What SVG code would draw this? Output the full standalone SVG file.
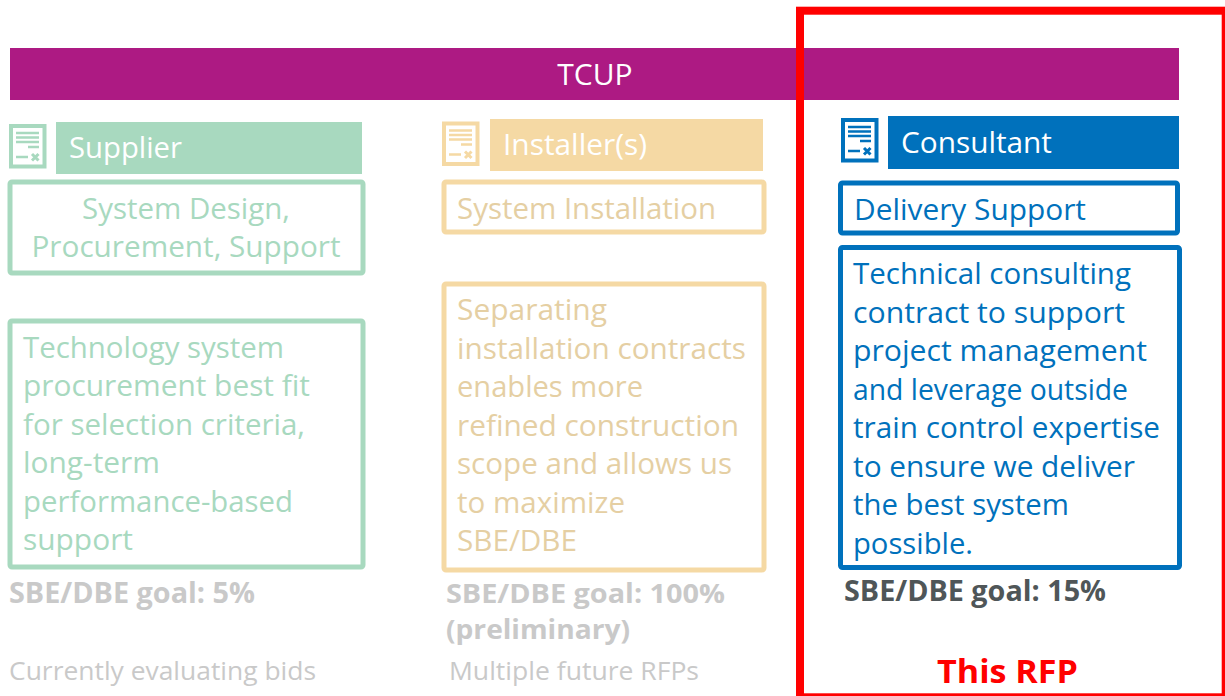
<svg xmlns="http://www.w3.org/2000/svg" width="1225" height="696" viewBox="0 0 1225 696">
<style>
text{font-family:"Open Sans","Noto Sans","Liberation Sans",sans-serif;font-size:30px}
.g{fill:#a8d9bf}.gs{stroke:#a8d9bf}
.t{fill:#e5cfa3}.ts{stroke:#f5d9a4}
.b{fill:#0071bc}.bs{stroke:#0071bc}
.box{fill:#fff;stroke-width:5}
.h{fill:#fff}
.goal{font-weight:700;font-size:28px;fill:#c9c9c9}
.goal2{font-weight:700;font-size:26px;fill:#c9c9c9}
.note{font-size:25px;fill:#c9c9c9}
</style>
<defs>
<g id="doc">
<rect x="2" y="2" width="33.500" height="40.500" fill="#fff" stroke="currentColor" stroke-width="4"/>
<path d="M7 9H30M7 13.500H30M7 18H30M19 23H30M7 33H19" stroke="currentColor" stroke-width="2.500" fill="none"/>
<path d="M23 30L29.500 36.500M29.500 30L23 36.500" stroke="currentColor" stroke-width="3" fill="none"/>
</g>
</defs>
<g id="tcup"><rect x="10" y="48" width="1169" height="52" fill="#ad1a83"/><text x="595" y="85" text-anchor="middle" class="h">TCUP</text></g>
<g id="supplier">
<use href="#doc" x="9" y="124" color="#a8d9bf"/>
<rect x="56" y="122" width="306" height="52" class="g"/>
<text x="69" y="158" class="h" textLength="113" lengthAdjust="spacingAndGlyphs">Supplier</text>
</g>
<g id="supplier-role">
<rect x="10" y="182" width="353" height="91" rx="2" class="box gs"/>
<text x="186" y="219" text-anchor="middle" class="g" textLength="208" lengthAdjust="spacingAndGlyphs">System Design,</text>
<text x="186" y="257" text-anchor="middle" class="g" textLength="309" lengthAdjust="spacingAndGlyphs">Procurement, Support</text>
</g>
<g id="supplier-desc">
<rect x="10" y="321" width="353" height="246" rx="2" class="box gs"/>
<text x="23" y="358" class="g" textLength="261" lengthAdjust="spacingAndGlyphs">Technology system</text>
<text x="23" y="396" class="g" textLength="287" lengthAdjust="spacingAndGlyphs">procurement best fit</text>
<text x="23" y="435" class="g" textLength="282" lengthAdjust="spacingAndGlyphs">for selection criteria,</text>
<text x="23" y="473" class="g" textLength="137" lengthAdjust="spacingAndGlyphs">long-term</text>
<text x="23" y="512" class="g" textLength="270" lengthAdjust="spacingAndGlyphs">performance-based</text>
<text x="23" y="550" class="g" textLength="110" lengthAdjust="spacingAndGlyphs">support</text>
</g>
<g id="supplier-foot">
<text x="9" y="603" class="goal" textLength="246" lengthAdjust="spacingAndGlyphs">SBE/DBE goal: 5%</text>
<text x="9" y="680" class="note" textLength="307" lengthAdjust="spacingAndGlyphs">Currently evaluating bids</text>
</g>
<g id="installer">
<use href="#doc" x="442" y="121.500" color="#f5d9a4"/>
<rect x="490" y="119" width="273" height="52" fill="#f5d9a4"/>
<text x="503" y="155" class="h" textLength="144" lengthAdjust="spacingAndGlyphs">Installer(s)</text>
</g>
<g id="installer-role">
<rect x="444" y="182" width="320" height="50" rx="2" class="box ts"/>
<text x="457" y="219" class="t" textLength="259" lengthAdjust="spacingAndGlyphs">System Installation</text>
</g>
<g id="installer-desc">
<rect x="444" y="284" width="320" height="286" rx="2" class="box ts"/>
<text x="457" y="320" class="t" textLength="150" lengthAdjust="spacingAndGlyphs">Separating</text>
<text x="457" y="359" class="t" textLength="289" lengthAdjust="spacingAndGlyphs">installation contracts</text>
<text x="457" y="397" class="t" textLength="186" lengthAdjust="spacingAndGlyphs">enables more</text>
<text x="457" y="436" class="t" textLength="282" lengthAdjust="spacingAndGlyphs">refined construction</text>
<text x="457" y="474" class="t" textLength="275" lengthAdjust="spacingAndGlyphs">scope and allows us</text>
<text x="457" y="513" class="t" textLength="168" lengthAdjust="spacingAndGlyphs">to maximize</text>
<text x="457" y="551" class="t" textLength="120" lengthAdjust="spacingAndGlyphs">SBE/DBE</text>
</g>
<g id="installer-foot">
<text x="446" y="603" class="goal2" textLength="279" lengthAdjust="spacingAndGlyphs">SBE/DBE goal: 100%</text>
<text x="446" y="639" class="goal2" textLength="184" lengthAdjust="spacingAndGlyphs">(preliminary)</text>
<text x="449" y="680" class="note" textLength="250" lengthAdjust="spacingAndGlyphs">Multiple future RFPs</text>
</g>
<g id="consultant">
<use href="#doc" x="841" y="118" color="#0071bc"/>
<rect x="888" y="116" width="291" height="53" class="b"/>
<text x="901" y="153" class="h" textLength="151" lengthAdjust="spacingAndGlyphs">Consultant</text>
</g>
<g id="consultant-role">
<rect x="840.500" y="183" width="337" height="50" rx="2" class="box bs"/>
<text x="854" y="220" class="b" textLength="232" lengthAdjust="spacingAndGlyphs">Delivery Support</text>
</g>
<g id="consultant-desc">
<rect x="840.500" y="247.500" width="339" height="320" rx="2" class="box bs"/>
<text x="853" y="284" class="b" textLength="278" lengthAdjust="spacingAndGlyphs">Technical consulting</text>
<text x="853" y="323" class="b" textLength="272" lengthAdjust="spacingAndGlyphs">contract to support</text>
<text x="853" y="361" class="b" textLength="294" lengthAdjust="spacingAndGlyphs">project management</text>
<text x="853" y="400" class="b" textLength="275" lengthAdjust="spacingAndGlyphs">and leverage outside</text>
<text x="853" y="438" class="b" textLength="307" lengthAdjust="spacingAndGlyphs">train control expertise</text>
<text x="853" y="477" class="b" textLength="282" lengthAdjust="spacingAndGlyphs">to ensure we deliver</text>
<text x="853" y="515" class="b" textLength="216" lengthAdjust="spacingAndGlyphs">the best system</text>
<text x="853" y="554" class="b" textLength="120" lengthAdjust="spacingAndGlyphs">possible.</text>
</g>
<g id="consultant-foot">
<text x="844" y="601" class="goal" style="fill:#4f5658" textLength="262" lengthAdjust="spacingAndGlyphs">SBE/DBE goal: 15%</text>
</g>
<g id="this-rfp">
<rect x="800" y="10.700" width="425.700" height="686.600" fill="none" stroke="#ff0000" stroke-width="8"/>
<text x="937" y="683" style="font-weight:700;font-size:33px;fill:#ff0000" textLength="141" lengthAdjust="spacingAndGlyphs">This RFP</text>
</g>
</svg>
